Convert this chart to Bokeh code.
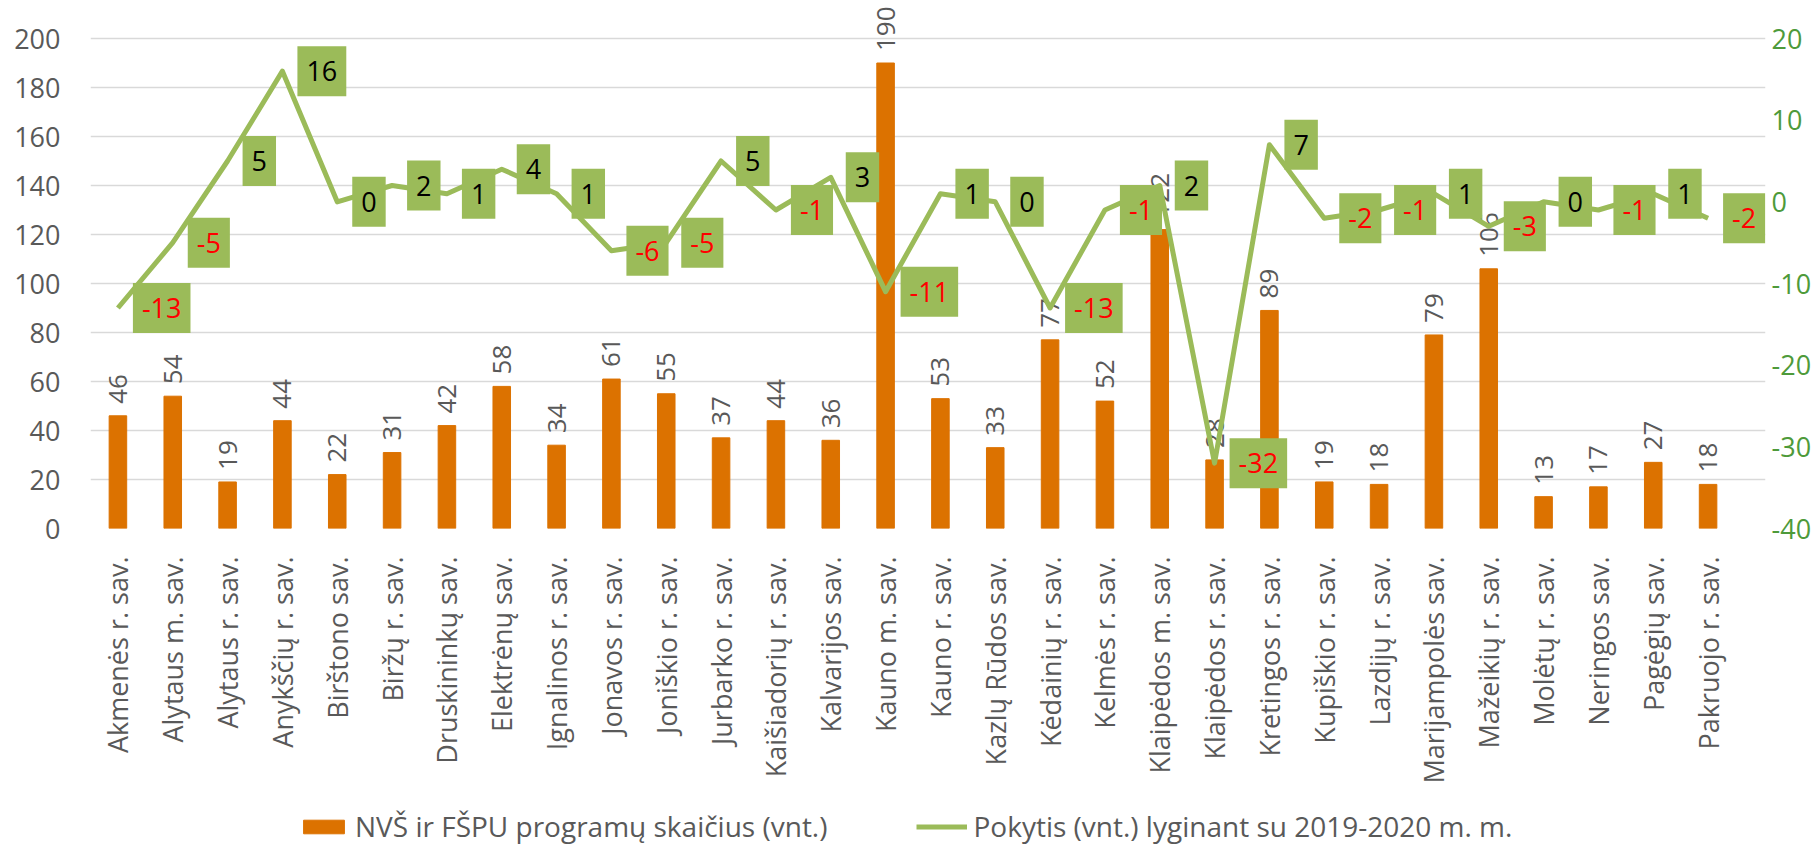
import math
from bokeh.plotting import figure
from bokeh.layouts import column
from bokeh.models import (ColumnDataSource, Range1d, LinearAxis, FixedTicker,
                          Label, Legend, LegendItem)
from bokeh.core.properties import value
from bokeh.embed import file_html
from bokeh.resources import INLINE

categories = ["Akmenės r. sav.", "Alytaus m. sav.", "Alytaus r. sav.", "Anykščių r. sav.",
              "Birštono sav.", "Biržų r. sav.", "Druskininkų sav.", "Elektrėnų sav.",
              "Ignalinos r. sav.", "Jonavos r. sav.", "Joniškio r. sav.", "Jurbarko r. sav.",
              "Kaišiadorių r. sav.", "Kalvarijos sav.", "Kauno m. sav.", "Kauno r. sav.",
              "Kazlų Rūdos sav.", "Kėdainių r. sav.", "Kelmės r. sav.", "Klaipėdos m. sav.",
              "Klaipėdos r. sav.", "Kretingos r. sav.", "Kupiškio r. sav.", "Lazdijų r. sav.",
              "Marijampolės sav.", "Mažeikių r. sav.", "Molėtų r. sav.", "Neringos sav.",
              "Pagėgių sav.", "Pakruojo r. sav."]
programs = [46, 54, 19, 44, 22, 31, 42, 58, 34, 61, 55, 37, 44, 36, 190, 53, 33, 77, 52, 122,
            28, 89, 19, 18, 79, 106, 13, 17, 27, 18]
changes = [-13, -5, 5, 16, 0, 2, 1, 4, 1, -6, -5, 5, -1, 3, -11, 1, 0, -13, -1, 2,
           -32, 7, -2, -1, 1, -3, 0, -1, 1, -2]
bar_name = "NVŠ ir FŠPU programų skaičius (vnt.)"
line_name = "Pokytis (vnt.) lyginant su 2019-2020 m. m."

left_ticks = list(range(0, 201, 20))
right_ticks = list(range(-40, 21, 10))

FONT = "Open Sans"
GRAY = "#595959"
ORANGE = "#DC7200"
OLIVE = "#9BBB59"
GREEN = "#4E9A3A"

# ---- layout (pixels) ----
W, H = 1820, 805
LEG_H = 40
DATA_L, DATA_R = 90, 1735      # horizontal extent of the category band
DATA_T, DATA_B = 38, 528       # vertical extent of the value axes
FRAME_L, FRAME_R = 90, 1765    # frame a bit larger so labels are not clipped
FRAME_T, FRAME_B = 0, 528

n = len(categories)
cat_px = (DATA_R - DATA_L) / n
x_start = -0.5 - (DATA_L - FRAME_L) / cat_px
x_end = n - 0.5 + (FRAME_R - DATA_R) / cat_px
lpx = (left_ticks[-1] - left_ticks[0]) / (DATA_B - DATA_T)
rpx = (right_ticks[-1] - right_ticks[0]) / (DATA_B - DATA_T)
y_end = left_ticks[-1] + (DATA_T - FRAME_T) * lpx
r_end = right_ticks[-1] + (DATA_T - FRAME_T) * rpx

xs = list(range(n))
src = ColumnDataSource(dict(x=xs, prog=programs, chg=changes,
                            plab=[str(v) for v in programs]))

p = figure(width=W, height=H, x_range=Range1d(x_start, x_end),
           y_range=Range1d(left_ticks[0], y_end), output_backend="svg",
           toolbar_location=None,
           min_border_left=FRAME_L, min_border_right=W - FRAME_R,
           min_border_top=FRAME_T, min_border_bottom=H - FRAME_B)
p.extra_y_ranges = {"right": Range1d(right_ticks[0], r_end)}
p.outline_line_color = None
p.background_fill_color = "white"
p.border_fill_color = "white"

p.xgrid.grid_line_color = None
p.ygrid.grid_line_color = "#D9D9D9"
p.ygrid.grid_line_width = 1.5

# left axis
ax = p.yaxis[0]
ax.ticker = FixedTicker(ticks=left_ticks)
ax.axis_line_color = None
ax.major_tick_line_color = None
ax.minor_tick_line_color = None
ax.major_label_text_font = FONT
ax.major_label_text_font_size = "27px"
ax.major_label_text_color = GRAY
ax.major_label_standoff = 24

# right axis
ra = LinearAxis(y_range_name="right", ticker=FixedTicker(ticks=right_ticks))
ra.major_label_overrides = {t: str(t) for t in right_ticks}
ra.axis_line_color = None
ra.major_tick_line_color = None
ra.minor_tick_line_color = None
ra.major_label_text_font = FONT
ra.major_label_text_font_size = "27px"
ra.major_label_text_color = GREEN
ra.major_label_standoff = 0
p.add_layout(ra, "right")

# x axis
xa = p.xaxis[0]
xa.ticker = FixedTicker(ticks=xs)
xa.major_label_overrides = {i: c for i, c in zip(xs, categories)}
xa.axis_line_color = None
xa.major_tick_line_color = None
xa.minor_tick_line_color = None
xa.major_label_orientation = math.pi / 2
xa.major_label_text_font = FONT
xa.major_label_text_font_size = "27px"
xa.major_label_text_color = GRAY
xa.major_label_standoff = 22

bar_kw = dict(x="x", top="prog", width=0.32, source=src, fill_color=ORANGE, line_color=ORANGE)
line_kw = dict(x="x", y="chg", source=src, line_color=OLIVE, line_width=5, line_join="round")

p.vbar(**bar_kw)
p.text(x="x", y="prog", text="plab", source=src, angle=math.pi / 2,
       text_align="left", text_baseline="middle", y_offset=-12,
       text_font=value(FONT), text_font_size="26px", text_color=GRAY)
p.line(y_range_name="right", **line_kw)

for i, v in zip(xs, changes):
    lab = Label(x=i, y=v, y_range_name="right", text=str(v), x_offset=15,
                text_align="left", text_baseline="middle",
                text_font=FONT, text_font_size="27px",
                text_color="#FF0000" if v < 0 else "#000000",
                background_fill_color=OLIVE, background_fill_alpha=1.0,
                padding=dict(left=9, right=9, top=15, bottom=15))
    p.add_layout(lab)

# ---- legend strip (own figure, same series, renderers hidden) ----
pl = figure(width=W, height=LEG_H, output_backend="svg", toolbar_location=None,
            x_axis_type=None, y_axis_type=None, min_border=0,
            x_range=Range1d(0, 1), y_range=Range1d(0, 1))
pl.outline_line_color = None
pl.grid.grid_line_color = None
lb = pl.vbar(visible=False, **bar_kw)
ll = pl.line(visible=False, **line_kw)
legend = Legend(items=[LegendItem(label=bar_name, renderers=[lb]),
                       LegendItem(label=line_name, renderers=[ll])],
                orientation="horizontal", location=(208, 0),
                glyph_width=51, glyph_height=17, label_standoff=6, spacing=89,
                padding=0, margin=0, border_line_color=None,
                background_fill_alpha=0, label_text_font=FONT,
                label_text_font_size="28px", label_text_color=GRAY)
pl.add_layout(legend)

open("out.html", "w").write(file_html(column(p, pl, spacing=0), INLINE))
